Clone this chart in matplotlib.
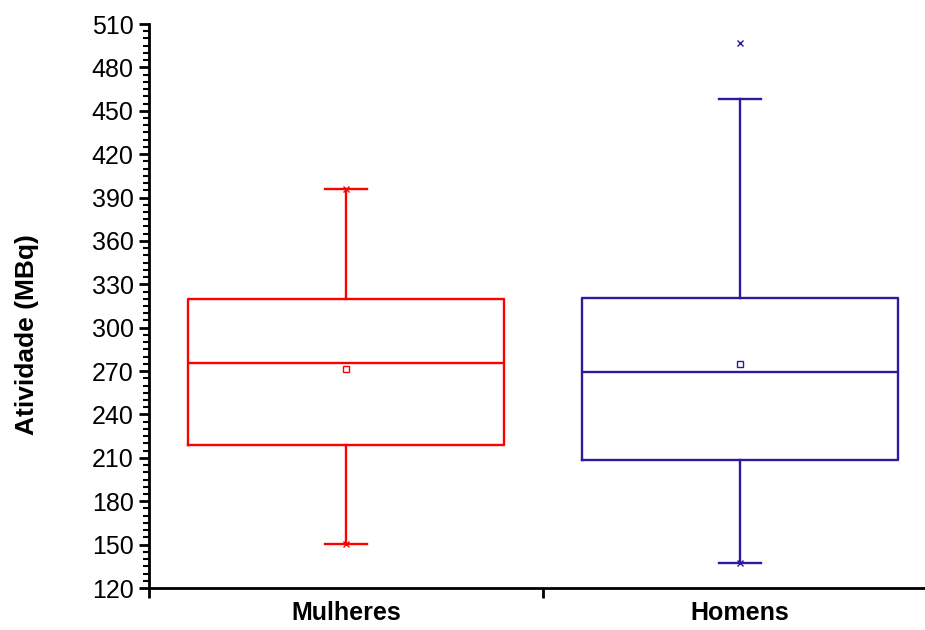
import matplotlib
matplotlib.use("Agg")
import matplotlib.pyplot as plt
from matplotlib.ticker import MultipleLocator, FixedLocator, NullFormatter

# Data
categories = ["Mulheres", "Homens"]
q1 = [219, 208.5]
median = [275.5, 269.5]
q3 = [320, 320.5]
whisker_low = [150.5, 137.5]
whisker_high = [396, 458]
means = [271.5, 275]
minimum = [150.5, 137.5]
maximum = [396, 497]
colors = ["#FF0000", "#2E1A9E"]

plt.rcParams['font.family'] = ['Liberation Sans', 'DejaVu Sans']

fig = plt.figure(figsize=(9.25, 6.3), dpi=100)
ax = fig.add_axes([149/925, 42/630, (937-149)/925, (588-24)/630])

positions = [0.5, 1.5]
for i, cat in enumerate(categories):
    stats = [dict(med=median[i], q1=q1[i], q3=q3[i], whislo=whisker_low[i],
                  whishi=whisker_high[i], mean=means[i], fliers=[], label=cat)]
    c = colors[i]
    ax.bxp(stats, positions=[positions[i]], widths=0.8, showmeans=True,
           showfliers=False, capwidths=0.107,
           boxprops=dict(color=c, linewidth=1.7),
           medianprops=dict(color=c, linewidth=1.7),
           whiskerprops=dict(color=c, linewidth=1.7),
           capprops=dict(color=c, linewidth=1.7),
           meanprops=dict(marker='s', markerfacecolor='white', markeredgecolor=c,
                          markersize=5, markeredgewidth=1.0))
    ax.plot([positions[i], positions[i]], [minimum[i], maximum[i]], linestyle='none',
            marker='x', color=c, markersize=5, markeredgewidth=1.0)

ax.set_xlim(0, 2)
ax.set_ylim(120, 510)
ax.yaxis.set_major_locator(MultipleLocator(30))
ax.yaxis.set_minor_locator(MultipleLocator(5))

ax.xaxis.set_major_locator(FixedLocator([0, 1, 2]))
ax.xaxis.set_major_formatter(NullFormatter())
ax.xaxis.set_minor_locator(FixedLocator(positions))
ax.set_xticklabels(categories, minor=True, fontweight='bold', fontsize=18)
ax.tick_params(axis='x', which='minor', length=0, pad=9)
ax.tick_params(axis='x', which='major', length=7, width=2, direction='out')

ax.tick_params(axis='y', which='major', length=7, width=2, direction='out', labelsize=18, pad=4)
ax.tick_params(axis='y', which='minor', length=4, width=1.5, direction='out')

for s in ['top', 'right']:
    ax.spines[s].set_visible(False)
for s in ['left', 'bottom']:
    ax.spines[s].set_linewidth(2)

ax.set_ylabel("Atividade (MBq)", fontsize=19, fontweight='bold', labelpad=38)
ax.yaxis.label.set_y(0.449)

fig.savefig("out.png", dpi=100)
